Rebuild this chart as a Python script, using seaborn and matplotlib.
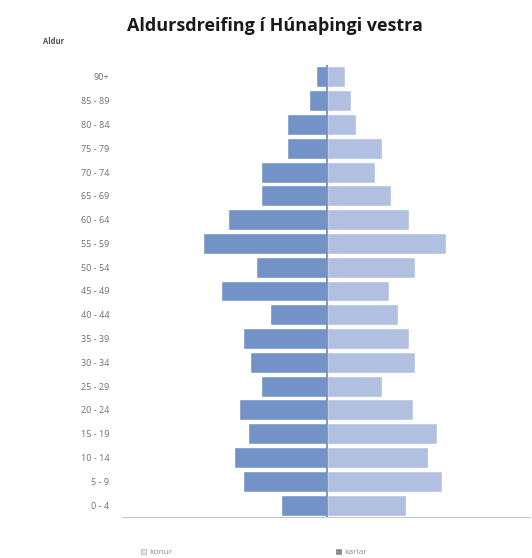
import numpy as np
import pandas as pd
import matplotlib
matplotlib.use('Agg')
import matplotlib.pyplot as plt
import seaborn as sns
from matplotlib.patches import Patch

age_groups = ['90+', '85 - 89', '80 - 84', '75 - 79', '70 - 74', '65 - 69', '60 - 64',
              '55 - 59', '50 - 54', '45 - 49', '40 - 44', '35 - 39', '30 - 34', '25 - 29',
              '20 - 24', '15 - 19', '10 - 14', '5 - 9', '0 - 4']
konur = [5, 8, 18, 18, 30, 30, 45, 56, 32, 48, 26, 38, 35, 30, 40, 36, 42, 38, 21]
karlar = [8, 11, 13, 25, 22, 29, 37, 54, 40, 28, 32, 37, 40, 25, 39, 50, 46, 52, 36]

col_konur = '#7393c6'
col_karlar = '#b1c0e0'

df = pd.DataFrame({'Aldur': age_groups * 2,
                   'fjoldi': [-v for v in konur] + karlar,
                   'kyn': ['konur'] * len(konur) + ['karlar'] * len(karlar)})

sns.set_style('white')
plt.rcParams['font.family'] = ['Open Sans', 'DejaVu Sans']

fig = plt.figure(figsize=(5.32, 5.58), dpi=100)
ax = fig.add_axes([0.229, 0.0735, 0.767, 0.81])

sns.barplot(data=df, y='Aldur', x='fjoldi', hue='kyn', order=age_groups,
            palette={'konur': col_konur, 'karlar': col_karlar}, saturation=1,
            dodge=False, width=0.88, orient='h', legend=False, ax=ax)
ax.axvline(0, color='#6a88ba', lw=1.2)

ax.set_xlim(-93, 92)
ax.set_xlabel('')
ax.set_ylabel('')
ax.set_xticks([])
for s in ['top', 'right', 'left']:
    ax.spines[s].set_visible(False)
ax.spines['bottom'].set_color('#c8c8c8')
ax.spines['bottom'].set_linewidth(0.8)
ax.tick_params(axis='y', length=0, pad=9, labelsize=6.5, labelcolor='#707070')

fig.text(0.517, 0.953, 'Aldursdreifing í Húnaþingi vestra', ha='center', va='center',
         fontsize=13, fontweight='bold', color='#1a1a1a')
fig.text(0.08, 0.925, 'Aldur', ha='left', va='center', fontsize=5.5,
         fontweight='bold', color='#505050')

handles = [Patch(facecolor='#e6e6e6', edgecolor='#b0b0b0', lw=0.5),
           Patch(facecolor='#8a8a8a', edgecolor='#8a8a8a', lw=0.5)]
fig.legend(handles, ['konur', 'karlar'], ncol=2, loc='center left',
           bbox_to_anchor=(0.25, 0.01), frameon=False, fontsize=6,
           labelcolor='#909090', handlelength=0.7, handleheight=0.7,
           handletextpad=0.4, columnspacing=19.5)

fig.savefig('out.png', dpi=100)
